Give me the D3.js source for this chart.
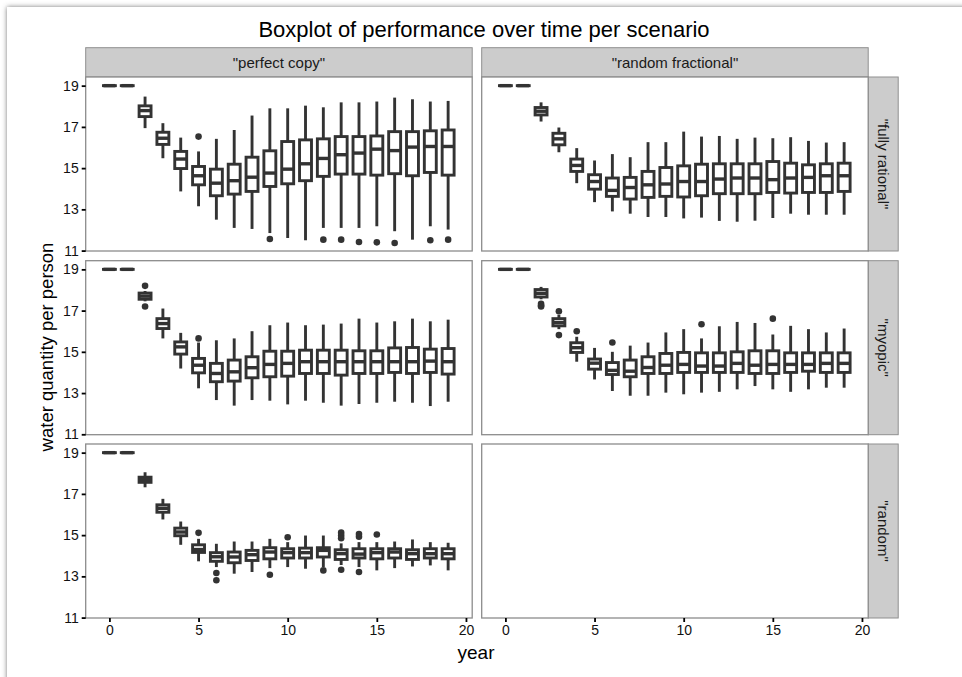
<!DOCTYPE html>
<html>
<head>
<meta charset="utf-8">
<script src="https://cdn.jsdelivr.net/npm/d3@7"></script>
<style>
  html, body { margin: 0; padding: 0; background: #ffffff; }
  svg { display: block; font-family: "Liberation Sans", Arial, sans-serif; }
</style>
</head>
<body>
<svg id="chart" width="962" height="677"></svg>
<script>
// Facet labels
const facetCols = ['"perfect copy"', '"random fractional"'];
const facetRows = ['"fully rational"', '"myopic"', '"random"'];

// Years on the x axis
const years = [0, 1, 2, 3, 4, 5, 6, 7, 8, 9, 10, 11, 12, 13, 14, 15, 16, 17, 18, 19];
const xTicks = [0, 5, 10, 15, 20];
const yTicks = [11, 13, 15, 17, 19];

// Box statistics per year: [lower whisker, Q1, median, Q3, upper whisker]
const perfectCopyRational = [
  [19, 19, 19, 19, 19], [19, 19, 19, 19, 19],
  [16.94, 17.5, 17.79, 18.02, 18.47], [15.48, 16.15, 16.45, 16.74, 17.18],
  [13.87, 14.98, 15.44, 15.81, 16.48], [13.15, 14.19, 14.63, 15.08, 15.81],
  [12.5, 13.66, 14.27, 14.95, 16.42], [12.1, 13.74, 14.39, 15.19, 16.85],
  [12.05, 13.87, 14.56, 15.53, 17.55], [11.85, 14.11, 14.76, 15.84, 17.9],
  [11.61, 14.24, 14.95, 16.29, 17.9], [11.5, 14.39, 15.21, 16.37, 18.03],
  [12.1, 14.6, 15.47, 16.42, 17.95], [12.1, 14.71, 15.65, 16.53, 18.19],
  [12.1, 14.71, 15.73, 16.53, 18.19], [12.18, 14.66, 15.92, 16.56, 18.23],
  [11.94, 14.73, 15.85, 16.77, 18.42], [11.53, 14.63, 16.02, 16.77, 18.34],
  [12.18, 14.79, 16.05, 16.81, 18.23], [12.02, 14.66, 16.05, 16.85, 18.26]
];
const perfectCopyRationalOut = [
  [5, 16.53], [9, 11.56], [12, 11.53], [13, 11.53], [14, 11.42],
  [15, 11.4], [16, 11.37], [18, 11.5], [19, 11.53]
];

const randomFracRational = [
  [19, 19, 19, 19, 19], [19, 19, 19, 19, 19],
  [17.26, 17.58, 17.76, 17.94, 18.19], [15.77, 16.13, 16.42, 16.69, 16.97],
  [14.27, 14.84, 15.13, 15.44, 15.97], [13.35, 13.98, 14.35, 14.68, 15.37],
  [12.9, 13.63, 13.92, 14.52, 15.68], [12.79, 13.5, 14.06, 14.55, 15.53],
  [12.63, 13.58, 14.19, 14.84, 16.26], [12.63, 13.63, 14.23, 15.03, 16.26],
  [12.56, 13.6, 14.35, 15.11, 16.77], [12.6, 13.66, 14.35, 15.19, 16.53],
  [12.44, 13.76, 14.47, 15.21, 16.56], [12.4, 13.76, 14.52, 15.21, 16.42],
  [12.45, 13.76, 14.52, 15.21, 16.48], [12.58, 13.82, 14.44, 15.32, 16.45],
  [12.79, 13.79, 14.52, 15.24, 16.5], [12.74, 13.82, 14.55, 15.16, 16.32],
  [12.74, 13.82, 14.63, 15.21, 16.24], [12.74, 13.87, 14.63, 15.24, 16.26]
];
const randomFracRationalOut = [];

const perfectCopyMyopic = [
  [19, 19, 19, 19, 19], [19, 19, 19, 19, 19],
  [17.45, 17.55, 17.7, 17.85, 17.95], [15.65, 16.13, 16.37, 16.61, 17.1],
  [14.19, 14.89, 15.24, 15.48, 15.92], [13.23, 13.98, 14.35, 14.68, 15.45],
  [12.66, 13.55, 13.95, 14.44, 15.56], [12.39, 13.58, 14.03, 14.6, 15.65],
  [12.66, 13.74, 14.23, 14.76, 16.0], [12.63, 13.79, 14.39, 15.03, 16.29],
  [12.45, 13.82, 14.44, 15.03, 16.42], [12.63, 13.95, 14.52, 15.08, 16.29],
  [12.53, 13.95, 14.52, 15.08, 16.32], [12.39, 13.87, 14.52, 15.08, 16.37],
  [12.47, 13.95, 14.52, 15.05, 16.61], [12.53, 13.95, 14.52, 15.05, 16.42],
  [12.58, 14.0, 14.52, 15.19, 16.48], [12.53, 13.95, 14.52, 15.21, 16.61],
  [12.37, 14.0, 14.55, 15.13, 16.48], [12.58, 13.92, 14.52, 15.16, 16.56]
];
const perfectCopyMyopicOut = [[2, 18.2], [2, 17.2], [5, 15.65]];

const randomFracMyopic = [
  [19, 19, 19, 19, 19], [19, 19, 19, 19, 19],
  [17.55, 17.66, 17.84, 18.02, 18.15], [16.1, 16.26, 16.42, 16.61, 16.8],
  [14.52, 14.97, 15.2, 15.44, 15.73], [13.66, 14.16, 14.45, 14.65, 15.19],
  [13.1, 13.9, 14.1, 14.48, 15.0], [12.87, 13.79, 14.06, 14.6, 15.3],
  [12.87, 13.95, 14.24, 14.76, 15.45], [13.02, 13.95, 14.35, 14.92, 15.94],
  [12.94, 14.0, 14.39, 14.97, 16.1], [13.02, 14.0, 14.31, 14.95, 15.65],
  [13.06, 14.0, 14.31, 14.95, 16.24], [13.18, 14.0, 14.44, 15.0, 16.45],
  [13.34, 13.95, 14.35, 15.05, 16.4], [13.18, 13.95, 14.39, 15.05, 15.84],
  [13.06, 14.0, 14.39, 14.95, 16.26], [13.18, 14.06, 14.39, 14.95, 16.1],
  [13.26, 14.0, 14.44, 14.95, 15.94], [13.26, 14.0, 14.44, 14.95, 16.13]
];
const randomFracMyopicOut = [
  [2, 17.33], [2, 17.25], [2, 17.2], [3, 16.97], [3, 15.81],
  [4, 16.0], [6, 15.45], [11, 16.34], [15, 16.61]
];

const perfectCopyRandom = [
  [19, 19, 19, 19, 19], [19, 19, 19, 19, 19],
  [17.32, 17.56, 17.7, 17.81, 18.05], [15.76, 16.11, 16.3, 16.47, 16.76],
  [14.53, 14.97, 15.15, 15.34, 15.66], [13.73, 14.16, 14.3, 14.53, 14.82],
  [13.45, 13.73, 13.95, 14.15, 14.58], [13.13, 13.66, 13.94, 14.18, 14.69],
  [13.21, 13.77, 14.05, 14.26, 14.69], [13.4, 13.85, 14.18, 14.39, 14.82],
  [13.45, 13.89, 14.15, 14.34, 14.66], [13.37, 13.89, 14.15, 14.37, 14.98],
  [13.45, 13.94, 14.26, 14.39, 14.98], [13.55, 13.82, 14.1, 14.29, 14.6],
  [13.45, 13.89, 14.08, 14.34, 14.66], [13.29, 13.85, 14.15, 14.34, 14.66],
  [13.4, 13.89, 14.18, 14.34, 14.69], [13.48, 13.82, 14.1, 14.29, 14.79],
  [13.53, 13.89, 14.1, 14.34, 14.66], [13.29, 13.85, 14.1, 14.34, 14.63]
];
const perfectCopyRandomOut = [
  [5, 15.11], [6, 13.16], [6, 12.81], [9, 13.08], [10, 14.9],
  [12, 13.29], [13, 15.12], [13, 14.98], [13, 14.85], [13, 13.32],
  [14, 15.05], [14, 14.92], [14, 13.21], [15, 15.03]
];

// Panel grid; the lower-right cell stays empty
const panels = [
  { row: 0, col: 0, stats: perfectCopyRational, out: perfectCopyRationalOut },
  { row: 0, col: 1, stats: randomFracRational, out: randomFracRationalOut },
  { row: 1, col: 0, stats: perfectCopyMyopic, out: perfectCopyMyopicOut },
  { row: 1, col: 1, stats: randomFracMyopic, out: randomFracMyopicOut },
  { row: 2, col: 0, stats: perfectCopyRandom, out: perfectCopyRandomOut },
  { row: 2, col: 1, stats: null, out: [] }
];

const W = 962, H = 677;
const svg = d3.select("#chart");

// Card with soft shadow behind the plot
const defs = svg.append("defs");
const f = defs.append("filter").attr("id", "shadow")
  .attr("x", "-5%").attr("y", "-5%").attr("width", "110%").attr("height", "110%");
f.append("feDropShadow").attr("dx", 0).attr("dy", 0)
  .attr("stdDeviation", 2.6).attr("flood-color", "#6e6e6e").attr("flood-opacity", 0.95);
svg.append("rect").attr("width", W).attr("height", H).attr("fill", "#ffffff");
svg.append("rect").attr("x", 7).attr("y", 7).attr("width", 1100).attr("height", 900)
  .attr("fill", "#ffffff").attr("filter", "url(#shadow)");

// Facet geometry
const colX = [85.7, 481.7], colW = 386.5;
const rowY = [77, 260.7, 444], rowH = 174;
const stripH = 29.3, stripW = 30;

const xDomain = [-1.33, 20.35];
const yDomain = [10.98, 19.42];
const boxHalf = 0.335;
const ink = "#333333";
const lineW = 2.9, medW = 3.4;

// Title
svg.append("text").attr("x", 484).attr("y", 37)
  .attr("text-anchor", "middle").attr("font-size", 22).attr("fill", "#000")
  .text("Boxplot of performance over time per scenario");

// Column strips
facetCols.forEach((lab, c) => {
  svg.append("rect").attr("x", colX[c]).attr("y", rowY[0] - stripH)
    .attr("width", colW).attr("height", stripH)
    .attr("fill", "#cccccc").attr("stroke", "#8f8f8f").attr("stroke-width", 1);
  svg.append("text").attr("x", colX[c] + colW / 2).attr("y", rowY[0] - stripH / 2 + 5.2)
    .attr("text-anchor", "middle").attr("font-size", 15).attr("fill", "#1a1a1a").text(lab);
});

// Row strips
facetRows.forEach((lab, r) => {
  const sx = colX[1] + colW;
  svg.append("rect").attr("x", sx).attr("y", rowY[r])
    .attr("width", stripW).attr("height", rowH)
    .attr("fill", "#cccccc").attr("stroke", "#8f8f8f").attr("stroke-width", 1);
  const cx = sx + stripW / 2, cy = rowY[r] + rowH / 2;
  svg.append("text").attr("transform", `translate(${cx - 5.2},${cy}) rotate(90)`)
    .attr("text-anchor", "middle").attr("font-size", 15).attr("fill", "#1a1a1a").text(lab);
});

panels.forEach(p => {
  const x = d3.scaleLinear().domain(xDomain).range([colX[p.col], colX[p.col] + colW]);
  const y = d3.scaleLinear().domain(yDomain).range([rowY[p.row] + rowH, rowY[p.row]]);
  const g = svg.append("g");

  g.append("rect").attr("x", colX[p.col]).attr("y", rowY[p.row])
    .attr("width", colW).attr("height", rowH).attr("fill", "#ffffff");

  if (p.stats) {
    const data = years.map((yr, i) => ({ yr, s: p.stats[i] }));
    const box = g.selectAll("g.box").data(data).join("g").attr("class", "box");
    // whiskers
    box.append("line")
      .attr("x1", d => x(d.yr)).attr("x2", d => x(d.yr))
      .attr("y1", d => y(d.s[0])).attr("y2", d => y(d.s[1]))
      .attr("stroke", ink).attr("stroke-width", lineW);
    box.append("line")
      .attr("x1", d => x(d.yr)).attr("x2", d => x(d.yr))
      .attr("y1", d => y(d.s[3])).attr("y2", d => y(d.s[4]))
      .attr("stroke", ink).attr("stroke-width", lineW);
    // interquartile box
    box.append("rect")
      .attr("x", d => x(d.yr - boxHalf)).attr("width", d => x(d.yr + boxHalf) - x(d.yr - boxHalf))
      .attr("y", d => y(d.s[3])).attr("height", d => Math.max(0.01, y(d.s[1]) - y(d.s[3])))
      .attr("fill", "#ffffff").attr("stroke", ink).attr("stroke-width", lineW);
    // median
    box.append("line")
      .attr("x1", d => x(d.yr - boxHalf)).attr("x2", d => x(d.yr + boxHalf))
      .attr("y1", d => y(d.s[2])).attr("y2", d => y(d.s[2]))
      .attr("stroke", ink).attr("stroke-width", medW);
    // outliers
    g.selectAll("circle").data(p.out).join("circle")
      .attr("cx", d => x(d[0])).attr("cy", d => y(d[1])).attr("r", 3.3)
      .attr("fill", ink);
  }

  g.append("rect").attr("x", colX[p.col]).attr("y", rowY[p.row])
    .attr("width", colW).attr("height", rowH)
    .attr("fill", "none").attr("stroke", "#8c8c8c").attr("stroke-width", 1.3);

  if (p.col === 0) {
    const ax = g.append("g").attr("transform", `translate(${colX[0]},0)`)
      .call(d3.axisLeft(y).tickValues(yTicks).tickSize(4).tickPadding(3).tickFormat(d3.format("d")));
    ax.select(".domain").remove();
    ax.selectAll("line").attr("stroke", "#000").attr("stroke-width", 1.8);
    ax.selectAll("text").attr("font-size", 14).attr("fill", "#111")
      .attr("font-family", '"Liberation Sans", Arial, sans-serif');
  }
  if (p.row === 2) {
    const ax = g.append("g").attr("transform", `translate(0,${rowY[2] + rowH})`)
      .call(d3.axisBottom(x).tickValues(xTicks).tickSize(4).tickPadding(3).tickFormat(d3.format("d")));
    ax.select(".domain").remove();
    ax.selectAll("line").attr("stroke", "#000").attr("stroke-width", 1.8);
    ax.selectAll("text").attr("font-size", 14).attr("fill", "#111")
      .attr("font-family", '"Liberation Sans", Arial, sans-serif');
  }
});

// Axis titles
svg.append("text").attr("x", 476).attr("y", 659)
  .attr("text-anchor", "middle").attr("font-size", 19).attr("fill", "#000").text("year");
svg.append("text").attr("transform", "translate(53,347) rotate(-90)")
  .attr("text-anchor", "middle").attr("font-size", 18.5).attr("fill", "#000")
  .text("water quantity per person");
</script>
</body>
</html>
